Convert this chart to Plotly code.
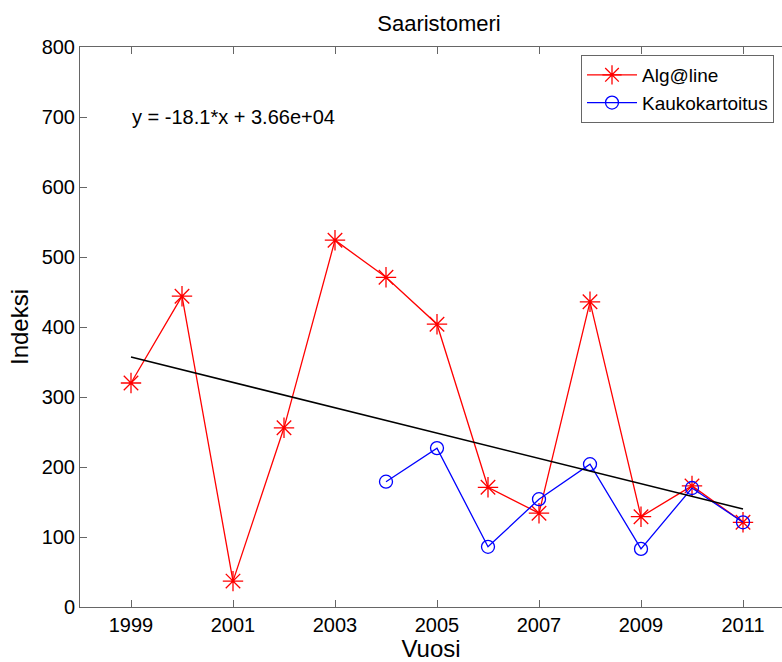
import plotly.graph_objects as go

years = [1999, 2000, 2001, 2002, 2003, 2004, 2005, 2006, 2007, 2008, 2009, 2010, 2011]
algaline = [320, 444, 37, 256, 524, 471, 404, 171, 134, 436, 129, 173, 121]

years_kk = [2004, 2005, 2006, 2007, 2008, 2009, 2010, 2011]
kaukokartoitus = [179, 227, 86, 154, 204, 83, 170, 121]

trend_x = [1999, 2011]
trend_y = [357, 140]

xtick_vals = [1999, 2001, 2003, 2005, 2007, 2009, 2011]
ytick_vals = [0, 100, 200, 300, 400, 500, 600, 700, 800]

FONT = "Liberation Sans, Arial, sans-serif"

fig = go.Figure()
fig.add_trace(go.Scatter(
    x=years, y=algaline, mode="lines+markers", name="Alg@line",
    line=dict(color="red", width=1.3),
    marker=dict(symbol="asterisk-open", size=17, color="red", line=dict(color="red", width=1.3)),
))
fig.add_trace(go.Scatter(
    x=years_kk, y=kaukokartoitus, mode="lines+markers", name="Kaukokartoitus",
    line=dict(color="blue", width=1.3),
    marker=dict(symbol="circle-open", size=13, color="blue", line=dict(color="blue", width=1.3)),
))
fig.add_trace(go.Scatter(
    x=trend_x, y=trend_y, mode="lines", showlegend=False,
    line=dict(color="black", width=1.5),
))

fig.add_annotation(
    x=(130 - 80) / 702, xref="paper", y=700, yref="y", xanchor="left", yanchor="middle",
    text="y = -18.1*x + 3.66e+04", showarrow=False,
    font=dict(family=FONT, size=20, color="black"),
)

fig.update_layout(
    width=782, height=662,
    margin=dict(l=80, r=0, t=47, b=55),
    paper_bgcolor="white", plot_bgcolor="white",
    font=dict(family=FONT, color="black"),
    title=dict(text="Saaristomeri", x=(439 - 80) / 702, xref="paper", xanchor="center",
               y=1 - 23 / 662, yanchor="middle", font=dict(family=FONT, size=22)),
    legend=dict(x=(581 - 80) / 702, y=(607 - 55) / 560, xanchor="left", yanchor="top",
                bgcolor="white", bordercolor="#666", borderwidth=1, itemwidth=50,
                font=dict(family=FONT, size=19), tracegroupgap=0),
    showlegend=True,
)
fig.update_xaxes(
    range=[1998, 1998 + 702 / 51], tickvals=xtick_vals, ticks="inside", ticklen=7,
    tickcolor="#666", showline=True, linecolor="#666", linewidth=1, mirror="ticks",
    showgrid=False, zeroline=False, tickfont=dict(family=FONT, size=20),
    title=dict(text="Vuosi", font=dict(family=FONT, size=24), standoff=0),
)
fig.update_yaxes(
    range=[0, 800], tickvals=ytick_vals, ticks="inside", ticklen=7,
    tickcolor="#666", showline=True, linecolor="#666", linewidth=1, mirror=False,
    showgrid=False, zeroline=False, tickfont=dict(family=FONT, size=20),
    title=dict(text="Indeksi", font=dict(family=FONT, size=24), standoff=6),
)

fig.write_html("out.html")
